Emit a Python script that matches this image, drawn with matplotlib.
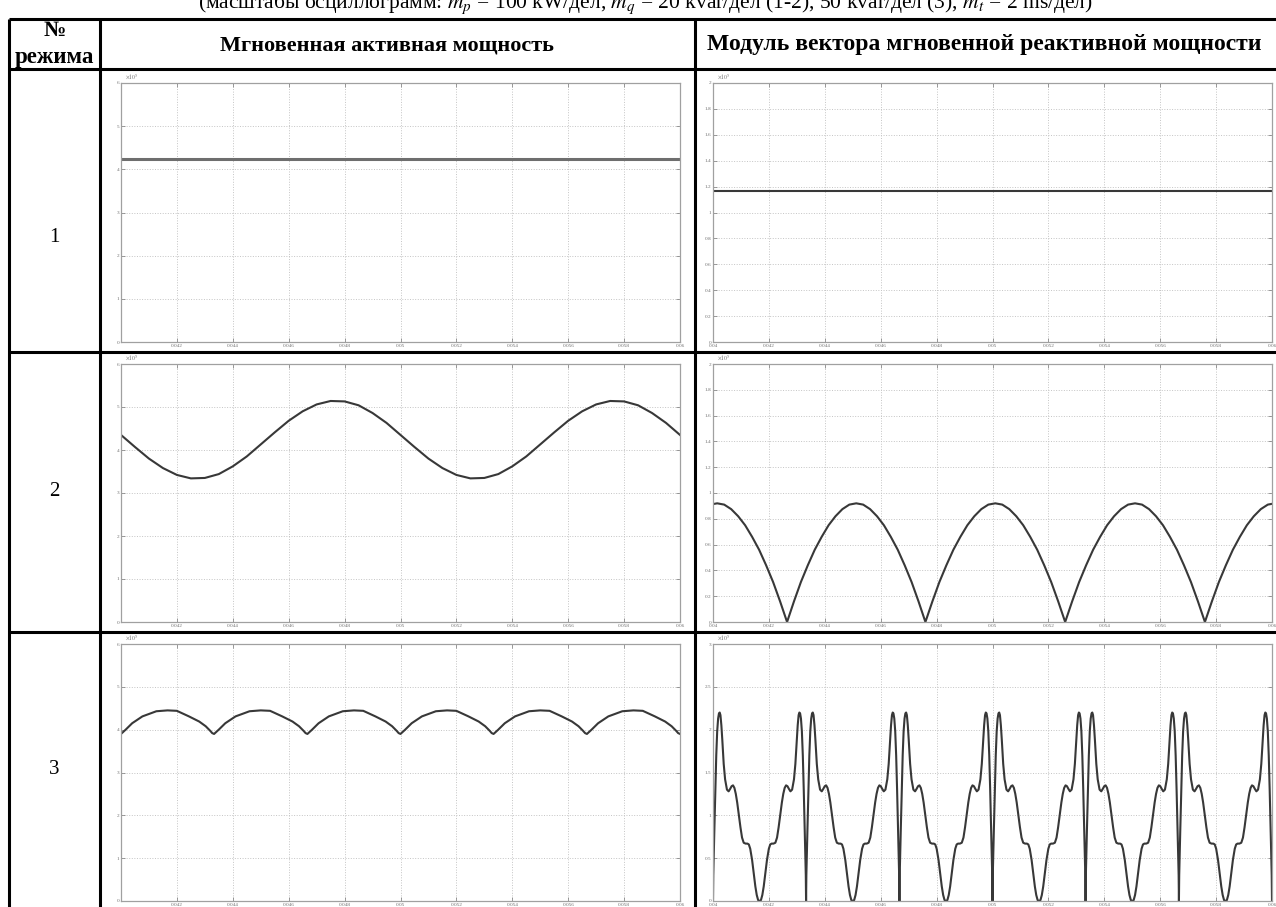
import numpy as np
import matplotlib.pyplot as plt

plt.rcParams.update({
    "font.family": ["Liberation Serif", "DejaVu Serif"],
    "mathtext.fontset": "stix",
})

W, H = 1276, 907

T_TICKS = [0.04, 0.042, 0.044, 0.046, 0.048, 0.05, 0.052, 0.054, 0.056, 0.058, 0.06]
T_LABELS = ["0.04", "0.042", "0.044", "0.046", "0.048", "0.05", "0.052", "0.054", "0.056", "0.058", "0.06"]

P_TICKS = [0, 1, 2, 3, 4, 5, 6]
Q12_TICKS = [0, 0.2, 0.4, 0.6, 0.8, 1, 1.2, 1.4, 1.6, 1.8, 2]
Q3_TICKS = [0, 0.5, 1, 1.5, 2, 2.5, 3]

# режим 1: постоянные значения, x10^5
P1_LEVEL = 4.25
Q1_LEVEL = 1.165

# режим 2: p(t) с шагом 0.5 мс
P2_T = [0.04 + 0.0005 * k for k in range(41)]
P2_V = [4.35, 4.07, 3.80, 3.58, 3.42, 3.34, 3.35, 3.44, 3.62, 3.85,
        4.13, 4.41, 4.68, 4.90, 5.06, 5.14, 5.13, 5.04, 4.86, 4.63,
        4.35, 4.07, 3.80, 3.58, 3.42, 3.34, 3.35, 3.44, 3.62, 3.85,
        4.13, 4.41, 4.68, 4.90, 5.06, 5.14, 5.13, 5.04, 4.86, 4.63, 4.35]

# режим 2: |q| - арки между нулями
Q2_ZEROS = [0.03765, 0.04265, 0.04760, 0.05260, 0.05760, 0.06260]
Q2_ARCH_PH = [0, 0.05, 0.1, 0.15, 0.2, 0.25, 0.3, 0.35, 0.4, 0.45, 0.5,
              0.55, 0.6, 0.65, 0.7, 0.75, 0.8, 0.85, 0.9, 0.95, 1]
Q2_ARCH_V = [0, 0.16, 0.31, 0.44, 0.56, 0.66, 0.75, 0.82, 0.875, 0.91, 0.92,
             0.91, 0.875, 0.82, 0.75, 0.66, 0.56, 0.44, 0.31, 0.16, 0]

# режим 3: p(t) - дуги между провалами
P3_CUSPS = [0.04, 0.04333, 0.04667, 0.05, 0.05333, 0.05667, 0.06]
P3_ARCH_PH = [0, 0.02, 0.05, 0.12, 0.23, 0.38, 0.5, 0.6, 0.73, 0.84, 0.91, 0.96, 0.98, 1]
P3_ARCH_V = [3.90, 3.94, 4.00, 4.15, 4.31, 4.43, 4.45, 4.44, 4.31, 4.19, 4.08, 3.97, 3.92, 3.90]

# режим 3: |q| - период между узкими провалами
Q3_SPIKES = [0.04, 0.04333, 0.04667, 0.05, 0.05333, 0.05667, 0.06]
Q3_PH = [0.000, 0.003, 0.008, 0.015, 0.025, 0.035, 0.045, 0.055, 0.064, 0.072,
         0.080, 0.090, 0.100, 0.115, 0.130, 0.150, 0.168, 0.185, 0.200, 0.215,
         0.230, 0.245, 0.260, 0.278, 0.295, 0.312, 0.330, 0.350, 0.370, 0.385,
         0.400, 0.420, 0.440, 0.455, 0.470, 0.485, 0.500,
         0.515, 0.530, 0.545, 0.560, 0.580, 0.600, 0.615, 0.630, 0.650, 0.670,
         0.688, 0.705, 0.722, 0.740, 0.755, 0.770, 0.785, 0.800, 0.815, 0.832,
         0.850, 0.870, 0.885, 0.900, 0.910, 0.920, 0.928, 0.936, 0.945, 0.955,
         0.965, 0.975, 0.985, 0.992, 0.997, 1.000]
Q3_V = [0.00, 0.30, 0.55, 0.85, 1.30, 1.70, 1.98, 2.13, 2.19, 2.20,
        2.17, 2.05, 1.88, 1.60, 1.42, 1.30, 1.28, 1.31, 1.34, 1.35,
        1.32, 1.25, 1.15, 1.00, 0.86, 0.74, 0.68, 0.67, 0.67, 0.66,
        0.61, 0.48, 0.30, 0.17, 0.07, 0.01, 0.00,
        0.01, 0.07, 0.17, 0.30, 0.48, 0.61, 0.66, 0.67, 0.67, 0.68,
        0.74, 0.86, 1.00, 1.15, 1.25, 1.32, 1.35, 1.34, 1.31, 1.28,
        1.30, 1.42, 1.60, 1.88, 2.05, 2.17, 2.20, 2.19, 2.13, 1.98,
        1.70, 1.30, 0.85, 0.55, 0.30, 0.00]

ROW_LABELS = ["1", "2", "3"]
HEAD_COL2 = "Мгновенная активная мощность"
HEAD_COL3 = "Модуль вектора мгновенной реактивной мощности"
TITLE = (r"(масштабы осциллограмм: $m_p$ = 100 kW/дел, $m_q$ = 20 kvar/дел (1-2), "
         r"50 kvar/дел (3), $m_t$ = 2 ms/дел)")


def periodic(anchors, ph, v):
    t_out, v_out = [], []
    for a, b in zip(anchors[:-1], anchors[1:]):
        t_out += [a + p * (b - a) for p in ph]
        v_out += list(v)
    return t_out, v_out


# === РАЗМЕТКА ТАБЛИЦЫ (пиксели) ===
TOP, HEAD_B, ROW1_B, ROW2_B = 19, 69, 352, 632
X_L, X_C1, X_C2 = 9, 100, 695
ROWS_Y = [(83, 342), (364, 622), (644, 901)]
COLS_X = [(121, 680), (713, 1272)]
LABEL_Y = [238, 492, 770]

fig = plt.figure(figsize=(W / 100, H / 100), dpi=100)
tab = fig.add_axes([0, 0, 1, 1])
tab.set_xlim(0, W)
tab.set_ylim(H, 0)
tab.axis("off")

lw = 2.2
for y in [TOP, HEAD_B, ROW1_B, ROW2_B]:
    tab.plot([X_L, W], [y, y], color="black", lw=lw, solid_capstyle="butt")
for x in [X_L, X_C1, X_C2]:
    tab.plot([x, x], [TOP, H], color="black", lw=lw, solid_capstyle="butt")

tab.text(645, 8, TITLE, ha="center", va="baseline", fontsize=15.5)
tab.text((X_L + X_C1) / 2, 36, "№", ha="center", va="baseline", fontsize=16, fontweight="bold")
tab.text((X_L + X_C1) / 2, 63, "режима", ha="center", va="baseline", fontsize=16.5, fontweight="bold")
tab.text(387, 50, HEAD_COL2, ha="center", va="baseline", fontsize=16, fontweight="bold")
tab.text(707, 50, HEAD_COL3, ha="left", va="baseline", fontsize=17, fontweight="bold")
for lab, y in zip(ROW_LABELS, LABEL_Y):
    tab.text((X_L + X_C1) / 2, y, lab, ha="center", va="center", fontsize=15)


def scope(col, row, t, v, ymax, yticks, color="#383838", lwid=1.5, show_t0=True):
    x0, x1 = COLS_X[col]
    y0, y1 = ROWS_Y[row]
    ax = fig.add_axes([x0 / W, 1 - y1 / H, (x1 - x0) / W, (y1 - y0) / H])
    ax.plot(t, v, color=color, lw=lwid)
    ax.set_xlim(0.04, 0.06)
    ax.set_ylim(0, ymax)
    ax.set_xticks(T_TICKS)
    labs = list(T_LABELS)
    if not show_t0:
        labs[0] = ""
    ax.set_xticklabels(labs)
    ax.set_yticks(yticks)
    ax.set_yticklabels([f"{y:g}" for y in yticks])
    ax.grid(True, linestyle=":", color="#c4c4c4", lw=0.7)
    ax.tick_params(direction="in", top=True, right=True, length=3, width=0.6,
                   color="#8a8a8a", labelcolor="#707070", labelsize=3.8, pad=1.2)
    for s in ax.spines.values():
        s.set_color("#a0a0a0")
        s.set_linewidth(0.9)
    ax.text(0.008, 1.004, r"$\times10^5$", transform=ax.transAxes, fontsize=4.2,
            ha="left", va="bottom", color="#707070")
    return ax


scope(0, 0, [0.04, 0.06], [P1_LEVEL, P1_LEVEL], 6, P_TICKS, color="#6e6e6e", lwid=2.2, show_t0=False)
scope(1, 0, [0.04, 0.06], [Q1_LEVEL, Q1_LEVEL], 2, Q12_TICKS)

scope(0, 1, P2_T, P2_V, 6, P_TICKS, show_t0=False)
t2q, v2q = periodic(Q2_ZEROS, Q2_ARCH_PH, Q2_ARCH_V)
scope(1, 1, t2q, v2q, 2, Q12_TICKS)

t3p, v3p = periodic(P3_CUSPS, P3_ARCH_PH, P3_ARCH_V)
scope(0, 2, t3p, v3p, 6, P_TICKS, show_t0=False)
t3q, v3q = periodic(Q3_SPIKES, Q3_PH, Q3_V)
scope(1, 2, t3q, v3q, 3, Q3_TICKS)

fig.savefig("out.png", dpi=100)
